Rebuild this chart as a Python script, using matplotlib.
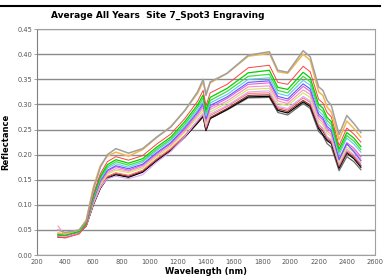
import matplotlib
matplotlib.use("Agg")
import matplotlib.pyplot as plt
from matplotlib.lines import Line2D

wavelength = [350, 400, 500, 550, 600, 650, 700, 760, 850, 950, 1050, 1150, 1250, 1340, 1380, 1400,
              1430, 1550, 1700, 1850, 1910, 1980, 2090, 2140, 2200, 2230, 2260, 2290, 2345, 2400, 2450, 2500]

gray = [.050, .045, .050, .068, .130, .175, .200, .212, .203, .212, .235, .255, .288, .325, .350, .318,
        .345, .362, .398, .405, .368, .364, .407, .395, .335, .328, .308, .298, .240, .278, .262, .244]
orange = [.044, .042, .050, .070, .135, .178, .197, .205, .197, .210, .234, .256, .288, .322, .345, .322,
          .343, .362, .396, .402, .365, .362, .400, .388, .325, .318, .295, .285, .230, .267, .252, .235]
red = [.036, .034, .042, .060, .121, .162, .186, .196, .189, .198, .221, .241, .272, .306, .328, .297,
       .323, .340, .373, .378, .344, .340, .376, .365, .310, .303, .284, .275, .218, .253, .241, .225]
green = [.040, .040, .047, .064, .117, .157, .180, .190, .183, .192, .215, .235, .266, .299, .319, .289,
         .314, .332, .363, .368, .334, .330, .364, .353, .300, .293, .274, .266, .211, .244, .233, .216]
lime = [.043, .040, .047, .063, .115, .154, .176, .186, .179, .188, .211, .231, .261, .294, .313, .283,
        .308, .326, .356, .360, .328, .323, .356, .345, .293, .286, .268, .260, .205, .238, .227, .210]
sky = [.042, .040, .047, .062, .113, .151, .173, .182, .175, .185, .208, .228, .257, .289, .307, .277,
       .303, .320, .350, .353, .322, .317, .348, .338, .287, .279, .262, .254, .200, .233, .221, .205]
blue = [.041, .039, .047, .061, .110, .148, .169, .178, .172, .181, .204, .224, .254, .285, .302, .272,
        .298, .315, .344, .347, .316, .311, .341, .331, .281, .273, .256, .249, .190, .222, .206, .188]
magenta = [.040, .039, .046, .061, .109, .146, .167, .176, .169, .179, .202, .222, .251, .282, .298, .269,
           .294, .312, .340, .343, .312, .307, .336, .326, .277, .269, .252, .245, .192, .224, .213, .196]
pink = [.058, .038, .046, .060, .107, .143, .164, .172, .167, .176, .199, .219, .248, .278, .294, .265,
        .290, .307, .335, .337, .307, .302, .329, .320, .272, .264, .247, .240, .189, .220, .209, .192]
yellowgreen = [.039, .038, .046, .060, .105, .141, .161, .169, .164, .173, .196, .216, .245, .274, .289, .261,
               .285, .303, .330, .332, .302, .298, .323, .314, .267, .259, .242, .236, .185, .215, .205, .188]
violet = [.037, .036, .045, .059, .102, .135, .152, .157, .152, .160, .185, .206, .236, .268, .283, .256,
          .281, .298, .325, .327, .296, .292, .316, .307, .261, .253, .236, .230, .181, .211, .200, .184]
lowred = [.037, .037, .045, .059, .102, .136, .157, .164, .159, .169, .192, .212, .239, .268, .282, .254,
          .278, .296, .322, .323, .294, .289, .313, .304, .259, .251, .234, .228, .178, .208, .198, .181]
brown = [.037, .037, .046, .059, .101, .134, .155, .162, .157, .167, .190, .210, .237, .265, .278, .250,
         .274, .292, .318, .319, .291, .286, .308, .299, .255, .247, .231, .225, .176, .205, .195, .178]
darkgray = [.040, .038, .046, .060, .102, .134, .154, .161, .156, .166, .189, .209, .236, .263, .276, .248,
            .272, .289, .313, .314, .284, .279, .302, .292, .246, .238, .222, .215, .168, .196, .186, .170]
black = [.036, .036, .045, .058, .100, .133, .153, .160, .155, .165, .188, .208, .235, .263, .276, .248,
         .272, .290, .315, .316, .288, .283, .305, .296, .252, .240, .228, .222, .173, .203, .192, .175]

series = [
    (darkgray, '#6a6a6a', 0.9),
    (black, '#000000', 0.9),
    (brown, '#8b3030', 0.8),
    (lowred, '#ff6a6a', 0.7),
    (violet, '#d8a8ff', 0.8),
    (yellowgreen, '#cde860', 0.8),
    (pink, '#ff90c0', 0.8),
    (magenta, '#e060e0', 0.8),
    (blue, '#5a5aff', 0.8),
    (sky, '#60c8f0', 0.8),
    (lime, '#40dd40', 0.9),
    (green, '#00d000', 0.9),
    (red, '#ff4040', 0.7),
    (orange, '#f7b548', 1.1),
    (gray, '#a0a0a0', 1.1),
]

xticks = list(range(200, 2601, 200))
yticks = [0.00, 0.05, 0.10, 0.15, 0.20, 0.25, 0.30, 0.35, 0.40, 0.45]

fig = plt.figure(figsize=(3.85, 2.80), dpi=100)
ax = fig.add_axes([0.096, 0.089, 0.878, 0.807])

for vals, col, lw in series:
    ax.plot(wavelength, vals, color=col, lw=lw)

ax.set_xlim(200, 2600)
ax.set_ylim(0, 0.45)
ax.set_xticks(xticks)
ax.set_yticks(yticks)
ax.set_yticklabels([f"{v:.2f}" for v in yticks])
ax.yaxis.grid(True, color='#8a8a8a', lw=1.0)
ax.set_axisbelow(True)
ax.tick_params(axis='x', length=0, labelsize=4.8, labelcolor='#555555', pad=3)
ax.tick_params(axis='y', length=2, width=0.6, color='#909090', labelsize=4.8,
               labelcolor='#555555', pad=1.5)
for s in ax.spines.values():
    s.set_color('#a0a0a0')
    s.set_linewidth(0.8)
ax.spines['left'].set_color('#808080')

ax.set_xlabel("Wavelength (nm)", fontsize=6, fontweight='bold', labelpad=1)
ax.set_ylabel("Reflectance", fontsize=6, fontweight='bold', labelpad=5)
fig.text(158/385, 1 - 15/280, "Average All Years  Site 7_Spot3 Engraving",
         fontsize=6.5, fontweight='bold', ha='center', va='center')
fig.add_artist(Line2D([0, 380/385], [1 - 6/280, 1 - 6/280], color='black', lw=1.5,
                      transform=fig.transFigure))

fig.savefig("out.png", dpi=100)
